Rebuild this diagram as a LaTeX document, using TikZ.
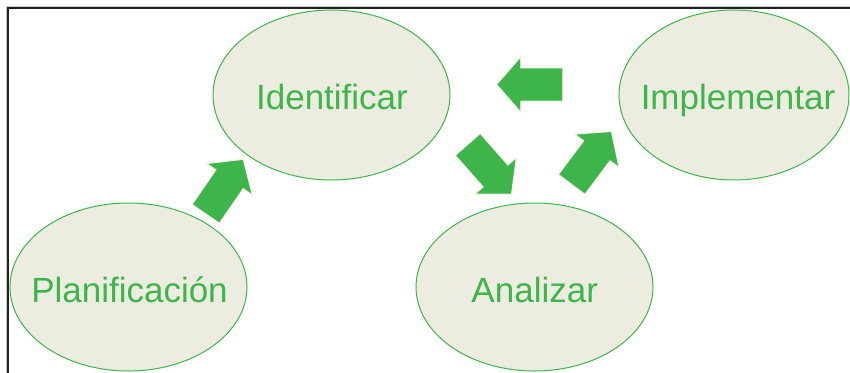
\documentclass[tikz,border=0pt]{standalone}
\usepackage{fontspec}
\setmainfont{Liberation Sans}
\usetikzlibrary{shapes.geometric}
\definecolor{leafgreen}{HTML}{3DB54A}
\definecolor{paper}{HTML}{EDECE1}
\definecolor{rim}{HTML}{F2EFE2}
\definecolor{framegray}{HTML}{222222}
\definecolor{shadowgray}{HTML}{C8C8C8}
\tikzset{
  stage/.style={ellipse, draw=leafgreen, line width=1pt, fill=paper, inner sep=0pt},
  stagetext/.style={text=leafgreen, font=\fontsize{35}{40}\selectfont,
    inner sep=0pt, text height=26pt, text depth=0pt},
  blockarrow/.style={fill=leafgreen, draw=rim, line width=0.9pt, line join=miter}
}
% block arrow: base centre at #1, pointing at angle #2
\newcommand{\blockarrowat}[2]{%
  \draw[blockarrow, shift={#1}, rotate=#2]
    (0,-16.5) -- (42,-16.5) -- (42,-27.5) -- (66,0) -- (42,27.5) -- (42,16.5) -- (0,16.5) -- cycle;}
\begin{document}
\begin{tikzpicture}[x=1pt, y=-1pt]
  \useasboundingbox (0,0) rectangle (850,372);
  % frame, open to the right and bottom
  \draw[shadowgray, line width=1pt] (6.5,375) -- (6.5,6.5) -- (855,6.5);
  \draw[framegray, line width=1.8pt] (8.3,375) -- (8.3,8.3) -- (855,8.3);

  \node[stage, minimum width=237pt, minimum height=170pt] (ident) at (331.5,95) {};
  \node[stage, minimum width=230pt, minimum height=170pt] (impl) at (734,95) {};
  \node[stage, minimum width=237pt, minimum height=168pt] (plan) at (128.5,287) {};
  \node[stage, minimum width=237pt, minimum height=168pt] (anal) at (534.5,287) {};

  \node[stagetext] (identtext) at (332,96) {Identificar};
  \node[stagetext] (impltext) at (738,96) {Implementar};
  \node[stagetext] (plantext) at (129.5,289) {Planificación};
  \node[stagetext] (analtext) at (534.7,289) {Analizar};

  % cycle arrows
  \blockarrowat{(205.8,213.8)}{55.5}
  \blockarrowat{(467.8,144.5)}{-48.6}
  \blockarrowat{(571.7,184.3)}{53.1}
  \blockarrowat{(562.7,84.5)}{180}
\end{tikzpicture}
\end{document}
